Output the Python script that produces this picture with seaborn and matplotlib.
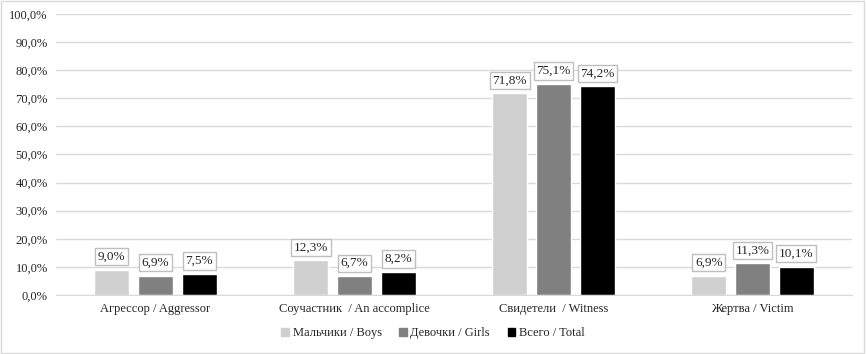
import pandas as pd
import seaborn as sns
import matplotlib.pyplot as plt
from matplotlib.ticker import FuncFormatter

categories = ['Агрессор / Aggressor', 'Соучастник  / An accomplice',
              'Свидетели  / Witness', 'Жертва / Victim']
groups = ['Мальчики / Boys', 'Девочки / Girls', 'Всего / Total']
boys = [9.0, 12.3, 71.8, 6.9]
girls = [6.9, 6.7, 75.1, 11.3]
total = [7.5, 8.2, 74.2, 10.1]
colors = ['#d0d0d0', '#808080', '#000000']

df = pd.DataFrame({
    'category': categories * 3,
    'group': [g for g in groups for _ in categories],
    'value': boys + girls + total,
})

sns.set_style('white')
plt.rcParams['font.family'] = 'serif'
plt.rcParams['font.serif'] = ['Liberation Serif', 'DejaVu Serif']

fig = plt.figure(figsize=(8.66, 3.54), dpi=100)
ax = fig.add_axes([0.0647, 0.1667, 0.9193, 0.7938])
sns.barplot(data=df, x='category', y='value', hue='group', hue_order=groups,
            palette=colors, width=0.66, gap=0.2, saturation=1, ax=ax,
            legend=False)

ax.set_ylim(0, 100)
ax.set_xlim(-0.5, 3.5)
ax.set_yticks(range(0, 101, 10))
ax.yaxis.set_major_formatter(FuncFormatter(lambda v, p: f'{v:.1f}%'.replace('.', ',')))
ax.grid(axis='y', color='#d9d9d9', linewidth=1)
ax.set_axisbelow(True)
for s in ['top', 'right', 'left']:
    ax.spines[s].set_visible(False)
ax.spines['bottom'].set_color('#d9d9d9')
ax.tick_params(axis='both', length=0, labelsize=9, pad=6)
ax.set_xlabel('')
ax.set_ylabel('')

for cont in ax.containers:
    labels = [f'{b.get_height():.1f}%'.replace('.', ',') for b in cont]
    ax.bar_label(cont, labels=labels, padding=5, fontsize=9.5,
                 bbox=dict(boxstyle='square,pad=0.2', fc='white', ec='#bfbfbf', lw=1))

handles = [plt.Rectangle((0, 0), 1, 1, color=c) for c in colors]
fig.legend(handles, groups, loc='lower center', bbox_to_anchor=(0.5, 0.01), ncol=3,
           frameon=False, fontsize=9, handlelength=0.6, handleheight=0.6,
           handletextpad=0.3, columnspacing=1.4)

fig.patches.append(plt.Rectangle((0.001, 0.002), 0.997, 0.995, transform=fig.transFigure,
                                 fill=False, ec='#d9d9d9', lw=1))

fig.savefig('out.png', dpi=100)
